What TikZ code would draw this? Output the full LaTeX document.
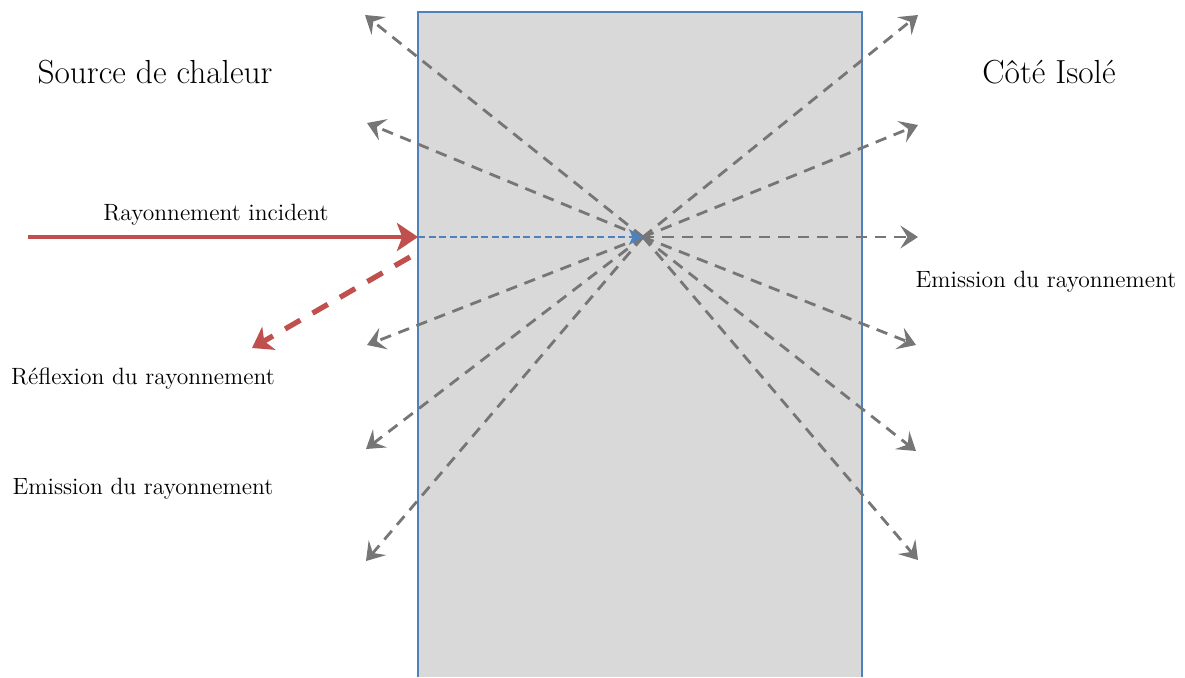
\documentclass[tikz,border=0pt]{standalone}
\usetikzlibrary{arrows.meta}
\definecolor{wallgray}{RGB}{217,217,217}
\definecolor{wallblue}{RGB}{79,129,189}
\definecolor{rayred}{RGB}{192,80,77}
\definecolor{raygray}{RGB}{118,118,118}
\tikzset{
  emission/.style={draw=raygray, line width=1.6pt, dash pattern=on 6.5pt off 4.5pt,
    -{Stealth[length=10pt, width=13pt, inset=4pt]}},
  incident/.style={draw=rayred, line width=2.8pt, -{Stealth[length=12pt, width=16pt, inset=3pt]}},
  reflected/.style={draw=rayred, line width=3pt, dash pattern=on 10pt off 8pt,
    -{Stealth[length=11pt, width=15pt, inset=3pt]}},
  transmit/.style={draw=wallblue, line width=1.3pt, dash pattern=on 4pt off 2pt,
    -{Stealth[length=8pt, width=9pt, inset=2pt]}},
  title/.style={font=\fontsize{19}{21}\selectfont},
  label/.style={font=\fontsize{13.4}{15}\selectfont},
}
\begin{document}
\begin{tikzpicture}[x=0.02cm, y=-0.02cm]
    \useasboundingbox (0,0) rectangle (1185,677);

    % Wall (open at the bottom)
    \fill[wallgray] (418,12) rectangle (862,677);
    \draw[wallblue, line width=1pt] (418,677) -- (418,12) -- (862,12) -- (862,677);

    % Point where the incident ray is absorbed
    \coordinate (hit) at (643,237);

    % Tips of the emitted rays
    \foreach \name/\x/\y in {l1/365/15, l2/367/123, l3/367/345, l4/366/449, l5/366/561,
                             r1/918/15, r2/918/125, r3/918/237, r4/916/345, r5/916/451, r6/918/560}
        \coordinate (\name) at (\x,\y);

    % Emitted rays
    \foreach \name in {l1,l2,l3,l4,l5,r1,r2,r3,r4,r5,r6}
        \draw[emission] (hit) -- (\name);

    % Incident ray and its path inside the wall
    \coordinate (source) at (28,237);
    \coordinate (entry) at (418,237);
    \draw[incident] (source) -- (entry);
    \draw[transmit] (entry) -- (hit);

    % Reflected ray
    \coordinate (reflStart) at (410,257);
    \coordinate (reflEnd) at (252,348);
    \draw[reflected] (reflStart) -- (reflEnd);

    % Labels
    \node[title] (hotSide) at (155,72) {Source de chaleur};
    \node[title] (coldSide) at (1049,72) {Côté Isolé};
    \node[label] (incidentLabel) at (216,215) {Rayonnement incident};
    \node[label] (emitRight) at (1046,282) {Emission du rayonnement};
    \node[label] (reflLabel) at (143,379) {Réflexion du rayonnement};
    \node[label] (emitLeft) at (143,489) {Emission du rayonnement};
\end{tikzpicture}
\end{document}
